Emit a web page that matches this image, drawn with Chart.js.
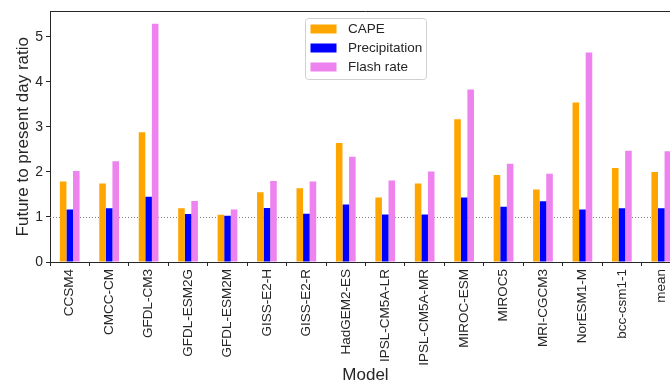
<!DOCTYPE html>
<html>
<head>
<meta charset="utf-8">
<script src="https://cdn.jsdelivr.net/npm/chart.js@4.4.1/dist/chart.umd.min.js"></script>
<style>
  html, body { margin: 0; padding: 0; overflow: hidden; background: #fff; width: 670px; height: 388px; }
  #wrap { width: 690px; height: 388px; }
</style>
</head>
<body>
<div id="wrap"><canvas id="c" width="690" height="388"></canvas></div>
<script>
const categories = ["CCSM4","CMCC-CM","GFDL-CM3","GFDL-ESM2G","GFDL-ESM2M","GISS-E2-H","GISS-E2-R","HadGEM2-ES","IPSL-CM5A-LR","IPSL-CM5A-MR","MIROC-ESM","MIROC5","MRI-CGCM3","NorESM1-M","bcc-csm1-1","mean"];
const cape   = [1.79, 1.745, 2.88, 1.196, 1.05, 1.55, 1.64, 2.64, 1.43, 1.745, 3.17, 1.93, 1.61, 3.54, 2.09, 2.00];
const precip = [1.165, 1.196, 1.45, 1.064, 1.027, 1.20, 1.07, 1.275, 1.055, 1.055, 1.43, 1.225, 1.35, 1.165, 1.196, 1.196];
const flash  = [2.02, 2.24, 5.29, 1.357, 1.165, 1.80, 1.79, 2.34, 1.81, 2.01, 3.83, 2.18, 1.96, 4.655, 2.47, 2.46];
const seriesNames = ["CAPE", "Precipitation", "Flash rate"];
const yTicks = [0, 1, 2, 3, 4, 5];
const yMax = 5.565;
const refLine = 1;

const FONT = "'Liberation Sans', Arial, sans-serif";
const colors = ["#FFA500", "#0000FF", "#EE82EE"];

const extras = {
  id: 'extras',
  beforeDatasetsDraw(chart) {
    const ctx = chart.ctx, a = chart.chartArea, y = chart.scales.y;
    ctx.save();
    const py = Math.round(y.getPixelForValue(refLine)) + 0.5;
    ctx.strokeStyle = '#808080';
    ctx.lineWidth = 1;
    ctx.setLineDash([1, 2]);
    ctx.beginPath(); ctx.moveTo(a.left, py); ctx.lineTo(a.right, py); ctx.stroke();
    ctx.restore();
  },
  afterDatasetsDraw(chart) {
    const ctx = chart.ctx, a = chart.chartArea;
    ctx.save();
    ctx.strokeStyle = '#262626';
    ctx.lineWidth = 1;
    ctx.beginPath(); ctx.moveTo(a.left, Math.round(a.top) + 0.5); ctx.lineTo(a.right, Math.round(a.top) + 0.5); ctx.stroke();
    ctx.restore();
  },
  afterDraw(chart) {
    const ctx = chart.ctx, a = chart.chartArea;
    const w = 121, h = 61;
    const cx = (a.left + a.right) / 2;
    const bx = Math.round(cx - w / 2) + 0.5, by = Math.round(a.top + 7) + 0.5;
    ctx.save();
    ctx.beginPath();
    if (ctx.roundRect) ctx.roundRect(bx, by, w, h, 3); else ctx.rect(bx, by, w, h);
    ctx.fillStyle = 'rgba(255,255,255,0.8)';
    ctx.fill();
    ctx.strokeStyle = '#d0d0d0';
    ctx.lineWidth = 1;
    ctx.stroke();
    ctx.font = '13.5px ' + FONT;
    ctx.textBaseline = 'middle';
    ctx.textAlign = 'left';
    chart.data.datasets.forEach((ds, i) => {
      const yc = by + 10.5 + i * 19;
      ctx.fillStyle = ds.backgroundColor;
      ctx.fillRect(bx + 5, yc - 4.5, 26, 9);
      ctx.fillStyle = '#262626';
      ctx.fillText(ds.label, bx + 42.5, yc + 0.5);
    });
    ctx.restore();
  }
};

new Chart(document.getElementById('c'), {
  type: 'bar',
  data: {
    labels: categories,
    datasets: [
      { label: seriesNames[0], data: cape, backgroundColor: colors[0] },
      { label: seriesNames[1], data: precip, backgroundColor: colors[1] },
      { label: seriesNames[2], data: flash, backgroundColor: colors[2] }
    ]
  },
  options: {
    responsive: false,
    animation: false,
    devicePixelRatio: 1,
    layout: { padding: { top: 8, right: 9, left: 0, bottom: 0 } },
    datasets: { bar: { categoryPercentage: 0.5, barPercentage: 1.0, borderWidth: 0 } },
    plugins: { legend: { display: false }, tooltip: { enabled: false } },
    scales: {
      x: {
        grid: { display: true, drawOnChartArea: false, tickLength: 4, color: '#262626' },
        border: { display: true, color: '#262626', width: 1 },
        ticks: { autoSkip: false, minRotation: 90, maxRotation: 90, color: '#262626', padding: 3, font: { family: FONT, size: 13.5 } },
        title: { display: true, text: 'Model', color: '#262626', font: { family: FONT, size: 17 }, padding: { top: 0, bottom: 2 } },
        afterFit(s) { s.height = 126; }
      },
      y: {
        min: 0, max: yMax,
        afterBuildTicks(s) { s.ticks = yTicks.map(v => ({ value: v })); },
        grid: { display: true, drawOnChartArea: false, tickLength: 4, color: '#262626' },
        border: { display: true, color: '#262626', width: 1 },
        ticks: { color: '#262626', padding: 3, font: { family: FONT, size: 14 } },
        title: { display: true, text: 'Future to present day ratio', color: '#262626', font: { family: FONT, size: 17 }, padding: { top: 13, bottom: 0 } },
        afterFit(s) { s.width = 50; }
      }
    }
  },
  plugins: [extras]
});
</script>
</body>
</html>
